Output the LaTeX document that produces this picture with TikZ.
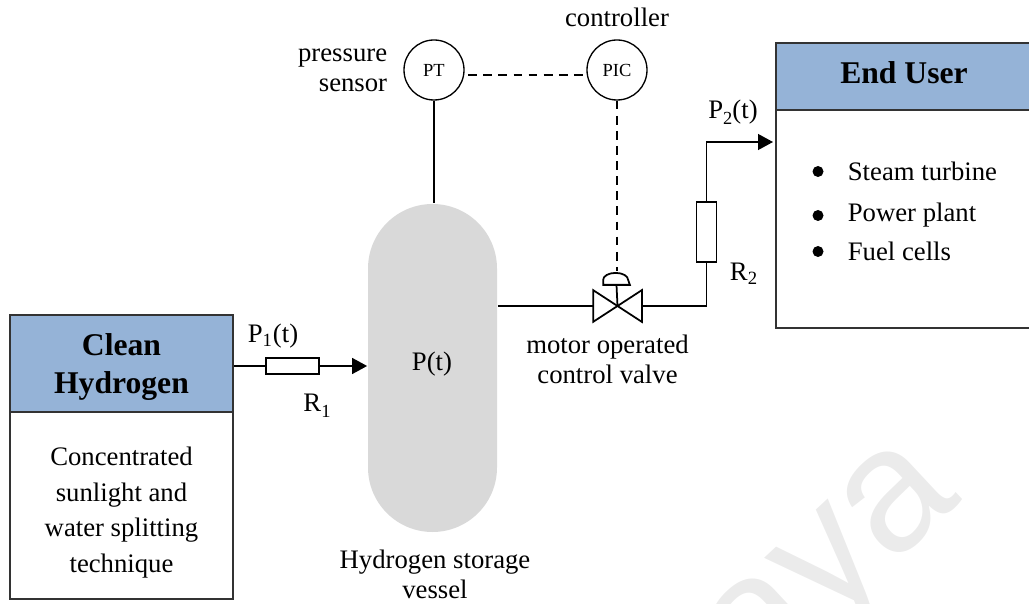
\documentclass[tikz,border=0pt]{standalone}
\usepackage{fontspec}
\setmainfont{Liberation Serif}
\newfontfamily\markfont{Liberation Sans}
\usetikzlibrary{arrows.meta}
\definecolor{fillHeader}{HTML}{95B3D7}
\definecolor{fillVessel}{HTML}{D9D9D9}
\definecolor{borderBox}{HTML}{333333}
\definecolor{fillMark}{HTML}{EBEBEB}
\newcommand{\lowsub}[2]{#1\raisebox{-3.5pt}{\fontsize{10.5}{10.5}\selectfont #2}}
\begin{document}
\begin{tikzpicture}[
    line width=1pt,
    myarrow/.style={-{Triangle[length=8.5pt,width=9pt]}},
    sigline/.style={dashed, dash pattern=on 5pt off 3.6pt},
    headbox/.style={rectangle, fill=fillHeader, draw=borderBox},
    bodybox/.style={rectangle, fill=white, draw=borderBox},
    headtxt/.style={inner sep=0pt, align=center, font=\fontsize{18}{21}\bfseries},
    bodytxt/.style={inner sep=0pt, align=center, font=\fontsize{15.2}{20.3}\selectfont},
    txt/.style={inner sep=0pt, align=center, font=\fontsize{15.2}{17}\selectfont},
    instr/.style={circle, draw, line width=0.75pt, minimum size=1.2cm, inner sep=0pt, font=\fontsize{10.5}{12}\selectfont},
    resist/.style={rectangle, draw, line width=0.75pt, fill=white, inner sep=0pt},
    dot/.style={circle, fill=black, minimum size=0.22cm, inner sep=0pt}
]
    \useasboundingbox (0,0) rectangle (20.58,12.06);

    % --- Background mark ---
    \node[rotate=43, text=fillMark, inner sep=0pt, font=\markfont\fontsize{100}{100}\selectfont] (mark) at (16.8, 0.55) {aya};

    % --- Source box ---
    \node[headbox, minimum width=4.46cm, minimum height=1.94cm] (cleanHead) at (2.43, 4.79) {};
    \node[bodybox, minimum width=4.46cm, minimum height=3.74cm] (cleanBody) at (2.43, 1.95) {};
    \node[headtxt] (cleanTitle) at (2.43, 4.72) {Clean\\[1pt]Hydrogen};
    \node[bodytxt] (cleanText) at (2.43, 1.81) {Concentrated\\sunlight and\\water splitting\\technique};

    % --- End user box ---
    \node[headbox, minimum width=5.1cm, minimum height=1.34cm] (userHead) at (18.07, 10.53) {};
    \node[bodybox, minimum width=5.1cm, minimum height=4.36cm] (userBody) at (18.07, 7.68) {};
    \node[headtxt] (userTitle) at (18.08, 10.6) {End User};
    \foreach \nm/\yy/\lbl in {steam/8.63/Steam turbine, power/7.75/Power plant, fuel/7.03/Fuel cells}{
        \node[txt, anchor=west] (\nm) at (16.94, \yy) {\lbl};
        \node[dot] (\nm Dot) at (16.36, \yy) {};
    }

    % --- Vessel ---
    \node[rectangle, fill=fillVessel, rounded corners=1.29cm, minimum width=2.58cm, minimum height=6.56cm] (vessel) at (8.65, 4.7) {};
    \node[txt] (ptext) at (8.64, 4.78) {P(t)};
    \node[txt] (vesselLbl) at (8.7, 0.58) {Hydrogen storage\\vessel};

    % --- Instruments ---
    \node[instr] (pt) at (8.68, 10.66) {PT};
    \node[instr] (pic) at (12.34, 10.66) {PIC};
    \node[txt, align=right, anchor=east] (ptLbl) at (7.76, 10.66) {pressure\\sensor};
    \node[txt] (picLbl) at (12.34, 11.72) {controller};

    % --- Valve ---
    \node[minimum width=0.94cm, minimum height=0.6cm, inner sep=0pt] (valve) at (12.35, 5.94) {};
    \node[minimum width=0.5cm, minimum height=0.24cm, inner sep=0pt] (actuator) at (12.33, 6.5) {};
    \draw (valve.north west) -- (valve.south east) -- (valve.north east) -- (valve.south west) -- cycle;
    \draw (actuator.south west) -- ++(0,0.1) arc (180:0:0.25 and 0.14) -- (actuator.south east) -- cycle;
    \draw (actuator.south) -- (valve.center);
    \node[txt] (valveLbl) at (12.15, 4.88) {motor operated\\control valve};

    % --- Resistors ---
    \node[resist, minimum width=1.06cm, minimum height=0.32cm] (rone) at (5.85, 4.74) {};
    \node[resist, minimum width=0.4cm, minimum height=1.2cm] (rtwo) at (14.13, 7.42) {};
    \coordinate (userIn) at (15.46, 9.22);

    % --- Flow lines ---
    \draw (cleanHead.east |- rone.west) -- (rone.west);
    \draw[myarrow] (rone.east) -- (rone.east -| vessel.west);
    \draw (vessel.east |- valve.west) -- (valve.west);
    \draw (valve.east) -| (rtwo.south);
    \draw[myarrow] (rtwo.north) |- (userIn);

    % --- Signal lines ---
    \draw (pt.south) -- (pt.south |- vessel.north);
    \draw[sigline] ([xshift=2pt,yshift=-0.1cm]pt.east) -- ([yshift=-0.1cm]pic.west);
    \draw[sigline] (pic.south) -- (pic.south |- actuator.north);

    % --- Labels ---
    \node[txt] (pone) at (5.46, 5.34) {P\textsubscript{1}(t)};
    \node[txt] (rlbl) at (6.34, 3.94) {\lowsub{R}{1}};
    \node[txt] (ptwo) at (14.66, 9.82) {\lowsub{P}{2}(t)};
    \node[txt] (rtwoLbl) at (14.88, 6.58) {R\textsubscript{2}};
\end{tikzpicture}
\end{document}
